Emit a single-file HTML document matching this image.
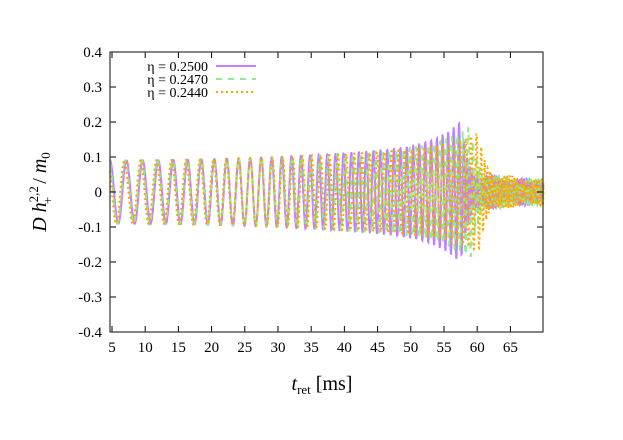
<!DOCTYPE html>
<html><head><meta charset="utf-8"><style>
body{margin:0;background:#fff;}
svg{display:block;font-family:"Liberation Serif",serif;}
</style></head><body>
<svg id="s" width="623" height="440" viewBox="0 0 623 440" xmlns="http://www.w3.org/2000/svg">
<rect width="623" height="440" fill="#fff"/>
<g id="curves"></g>
<g id="axes" stroke="#000" stroke-width="1" fill="none"></g>
<rect x="110" y="52" width="433" height="280" fill="none" stroke="#333" stroke-width="1.2"/>
<g font-size="15" fill="#000" text-anchor="end" id="yl"></g>
<g font-size="15" fill="#000" text-anchor="middle" id="xl"></g>
<g font-size="14" fill="#000" text-anchor="end">
<text x="208" y="71">η = 0.2500</text>
<text x="208" y="84">η = 0.2470</text>
<text x="208" y="97">η = 0.2440</text>
</g>
<line x1="216" y1="66" x2="256" y2="66" stroke="#c080ff" stroke-width="2"/>
<line x1="216" y1="79" x2="256" y2="79" stroke="#90ee90" stroke-width="2" stroke-dasharray="6,6"/>
<line x1="216" y1="92" x2="256" y2="92" stroke="#ffa500" stroke-width="2" stroke-dasharray="2,3"/>
<text x="322" y="390" font-size="20" text-anchor="middle"><tspan font-style="italic">t</tspan><tspan font-size="13" dy="4">ret</tspan><tspan dy="-4"> [ms]</tspan></text>
<text transform="translate(46,192) rotate(-90)" font-size="20" text-anchor="middle"><tspan font-style="italic">D h</tspan><tspan font-size="13" dy="-8">2,2</tspan><tspan font-size="13" dy="14" dx="-18">+</tspan><tspan dy="-6" dx="8"> / </tspan><tspan font-style="italic">m</tspan><tspan font-size="13" dy="4">0</tspan></text>
</svg>
<script>
const X=t=>110+(t-4.7)*6.64, Y=v=>192-v*350;
let ax=document.getElementById('axes'),yl=document.getElementById('yl'),xl=document.getElementById('xl'),h='',yh='',xh='';
for(let i=-4;i<=4;i++){let y=Y(i/10);h+=`<line x1="110" y1="${y}" x2="116" y2="${y}"/><line x1="543" y1="${y}" x2="537" y2="${y}"/>`;
yh+=`<text x="102" y="${y+5}">${i==0?'0':(i/10).toFixed(1)}</text>`;}
for(let t=5;t<=65;t+=5){let x=X(t);h+=`<line x1="${x}" y1="332" x2="${x}" y2="326"/><line x1="${x}" y1="52" x2="${x}" y2="58"/>`;xh+=`<text x="${x}" y="352">${t}</text>`;}
ax.innerHTML=h;yl.innerHTML=yh;xl.innerHTML=xh;
function wave(tm,ph,amp){let p='',phase=ph;const dt=0.01;
for(let t=4.7;t<=70;t+=dt){let v;
 if(t<tm){let u=(t-5)/(tm-5);let f=0.4+0.85*Math.pow(Math.max(u,0),1.6);phase+=2*Math.PI*f*dt;
  let uu=Math.max(u,0);let A=0.09+0.045*uu*uu+(amp-0.135)*Math.pow(uu,14);v=A*Math.cos(phase);}
 else{let d=t-tm;phase+=2*Math.PI*(1.3+1.4*Math.min(d/1.5,1))*dt;
  let A=amp*Math.exp(-d*1.2)+0.045*(1-Math.exp(-d*1.5))*(1+0.25*Math.cos(d*1.3))*Math.exp(-d*0.04);v=A*Math.cos(phase);}
 p+=(p?'L':'M')+X(t).toFixed(1)+' '+Y(v).toFixed(1);}
return p;}
document.getElementById('curves').innerHTML=
`<path d="${wave(57.5,0,0.2)}" fill="none" stroke="#c080ff" stroke-width="2"/>`+
`<path d="${wave(59,0.4,0.19)}" fill="none" stroke="#90ee90" stroke-width="2" stroke-dasharray="6,6"/>`+
`<path d="${wave(60.2,0.8,0.17)}" fill="none" stroke="#ffa500" stroke-width="2" stroke-dasharray="2,3"/>`;
</script>
</body></html>
